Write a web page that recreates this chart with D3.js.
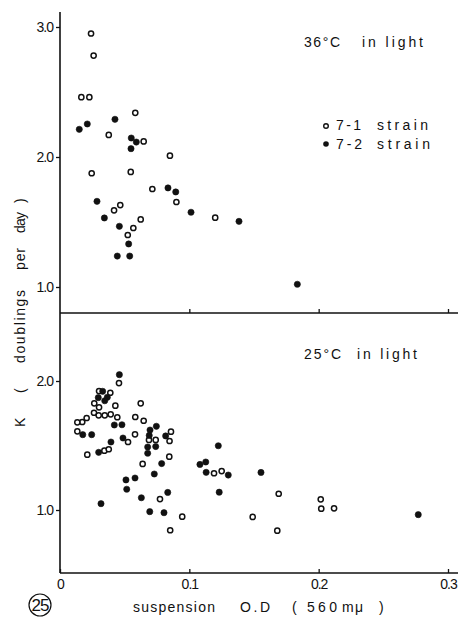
<!DOCTYPE html>
<html>
<head>
<meta charset="utf-8">
<script src="https://cdn.jsdelivr.net/npm/d3@7"></script>
<style>
  body { margin: 0; background: #fff; }
  text { font-family: "Liberation Sans", Arial, sans-serif; fill: #111; }
  .tick text { font-size: 14px; }
</style>
</head>
<body>
<div id="chart"></div>
<script>
// 36 C panel
const top71 = [[0.024,2.95],[0.026,2.78],[0.0165,2.46],[0.0227,2.46],[0.0582,2.34],[0.0377,2.17],
  [0.0647,2.12],[0.085,2.01],[0.0245,1.875],[0.0547,1.885],[0.0714,1.754],[0.09,1.654],[0.0466,1.63],
  [0.0418,1.59],[0.0624,1.52],[0.0567,1.454],[0.0524,1.40],[0.12,1.533]];
const top72 = [[0.0149,2.213],[0.0211,2.254],[0.0425,2.29],[0.0551,2.146],[0.059,2.115],[0.0549,2.064],
  [0.0835,1.762],[0.0895,1.731],[0.0286,1.659],[0.0343,1.531],[0.0459,1.467],[0.0531,1.331],
  [0.0443,1.238],[0.0539,1.238],[0.1013,1.575],[0.1384,1.505],[0.1835,1.021]];
// 25 C panel
const bot71 = [[0.0456,1.984],[0.0302,1.922],[0.0389,1.909],[0.0265,1.827],[0.0302,1.796],[0.0428,1.809],
  [0.0263,1.754],[0.0299,1.734],[0.0346,1.734],[0.0392,1.742],[0.0443,1.719],[0.0206,1.713],
  [0.0172,1.682],[0.0134,1.680],[0.0134,1.610],[0.0211,1.429],[0.0343,1.460],[0.0377,1.471],
  [0.0526,1.527],[0.0624,1.827],[0.0582,1.721],[0.0647,1.692],[0.058,1.587],[0.0688,1.543],
  [0.074,1.543],[0.0858,1.607],[0.0847,1.535],[0.0845,1.413],[0.0639,1.357],[0.0773,1.085],
  [0.0945,0.948],[0.0852,0.843],[0.1191,1.285],[0.125,1.302],[0.1691,1.126],[0.149,0.946],
  [0.168,0.84],[0.2016,1.083],[0.202,1.010],[0.2119,1.013]];
const bot72 = [[0.0459,2.049],[0.033,1.92],[0.0296,1.871],[0.0366,1.874],[0.0346,1.847],[0.042,1.659],
  [0.0479,1.661],[0.0176,1.584],[0.0245,1.584],[0.0299,1.447],[0.0394,1.527],[0.0487,1.558],
  [0.0317,1.049],[0.0745,1.649],[0.0696,1.62],[0.069,1.578],[0.0817,1.574],[0.0678,1.488],
  [0.074,1.492],[0.0678,1.44],[0.0786,1.36],[0.0729,1.279],[0.051,1.233],[0.058,1.248],
  [0.0516,1.161],[0.0629,1.095],[0.0833,1.136],[0.0694,0.987],[0.0804,0.979],[0.1082,1.353],
  [0.1127,1.372],[0.113,1.292],[0.1301,1.271],[0.1224,1.498],[0.1231,1.138],[0.1554,1.291],
  [0.277,0.964]];

const xTicks = [0, 0.1, 0.2, 0.3];
const yTicksTop = [1.0, 2.0, 3.0];
const yTicksBot = [1.0, 2.0];

var width = 458, height = 620;

var svg = d3.select("#chart").append("svg")
    .attr("width", width)
    .attr("height", height);

const x = d3.scaleLinear().domain([0, 0.3]).range([60, 448]);
const yTop = d3.scaleLinear().domain([1, 3]).range([287, 27]);
const yBot = d3.scaleLinear().domain([1, 2]).range([510, 381]);

const fmt = d => d === 0 ? "0" : d3.format(".1f")(d);

// frame lines
svg.append("line").attr("x1", 60).attr("x2", 60).attr("y1", 12).attr("y2", 573)
    .attr("stroke", "#111").attr("stroke-width", 1.6);
[313, 573].forEach(yy => {
  svg.append("line").attr("x1", 60).attr("x2", 458).attr("y1", yy).attr("y2", yy)
    .attr("stroke", "#111").attr("stroke-width", 1.5);
});

const styleAxis = g => {
  g.select(".domain").remove();
  g.selectAll(".tick line").attr("stroke", "#111").attr("stroke-width", 1.3);
  g.selectAll(".tick text").attr("fill", "#111").attr("letter-spacing", "-1px");
};

svg.append("g").attr("transform", "translate(60,0)")
    .call(d3.axisLeft(yTop).tickValues(yTicksTop).tickFormat(fmt).tickSize(4).tickPadding(3))
    .call(styleAxis);
svg.append("g").attr("transform", "translate(60,0)")
    .call(d3.axisLeft(yBot).tickValues(yTicksBot).tickFormat(fmt).tickSize(4).tickPadding(3))
    .call(styleAxis);

svg.append("g").attr("transform", "translate(0,313)")
    .call(d3.axisBottom(x).tickValues(xTicks.slice(1)).tickFormat("").tickSize(-4))
    .call(styleAxis);
svg.append("g").attr("transform", "translate(0,573)")
    .call(d3.axisBottom(x).tickValues(xTicks).tickFormat(fmt).tickSize(-4).tickPadding(6))
    .call(styleAxis);

// points
const drawPoints = (data, yScale, filled) => {
  svg.append("g").selectAll("circle").data(data)
    .enter().append("circle")
    .attr("cx", d => x(d[0]))
    .attr("cy", d => yScale(d[1]))
    .attr("r", filled ? 3.1 : 2.6)
    .attr("fill", filled ? "#111" : "#fff")
    .attr("stroke", "#111")
    .attr("stroke-width", filled ? 0.6 : 1.5);
};
drawPoints(top71, yTop, false);
drawPoints(top72, yTop, true);
drawPoints(bot71, yBot, false);
drawPoints(bot72, yBot, true);

// text pieces, stretched to the widths
const label = (txt, xx, yy, len, size) => {
  return svg.append("text")
    .attr("x", xx).attr("y", yy)
    .attr("font-size", size || 14)
    .attr("textLength", len)
    .attr("lengthAdjust", "spacing")
    .text(txt);
};

label("36°C", 304, 47, 36);
label("in light", 362, 47, 61);
label("25°C", 304, 359, 37);
label("in light", 357, 359, 60);

// legend
svg.append("circle").attr("cx", 326).attr("cy", 126).attr("r", 2.3)
    .attr("fill", "#fff").attr("stroke", "#111").attr("stroke-width", 1.4);
svg.append("circle").attr("cx", 326).attr("cy", 144).attr("r", 2.8).attr("fill", "#111");
label("7-1", 336, 130, 25);
label("strain", 377, 130, 51);
label("7-2", 336, 149, 26);
label("strain", 377, 149, 53);

// x axis title
label("suspension", 133, 612, 82);
label("O.D", 240, 612, 30);
label("(", 292, 612, 5);
label("560", 307, 612, 30);
label("mμ", 342, 612, 21);
label(")", 379, 612, 5);

// y axis title, rotated
const yLab = [["K", 427, 10], ["(", 393, 5], ["doublings", 363, 73], ["per", 270, 22], ["day", 233, 21], [")", 203, 5]];
yLab.forEach(p => {
  svg.append("text")
    .attr("transform", `translate(25,${p[1]}) rotate(-90)`)
    .attr("font-size", 14)
    .attr("textLength", p[2])
    .attr("lengthAdjust", "spacing")
    .text(p[0]);
});

// figure number
svg.append("circle").attr("cx", 40).attr("cy", 605).attr("r", 11)
    .attr("fill", "none").attr("stroke", "#111").attr("stroke-width", 1.2);
svg.append("text").attr("x", 40).attr("y", 611)
    .attr("text-anchor", "middle")
    .attr("font-family", "Liberation Serif, serif")
    .attr("font-size", 17)
    .attr("letter-spacing", "-1px")
    .text("25");
</script>
</body>
</html>
